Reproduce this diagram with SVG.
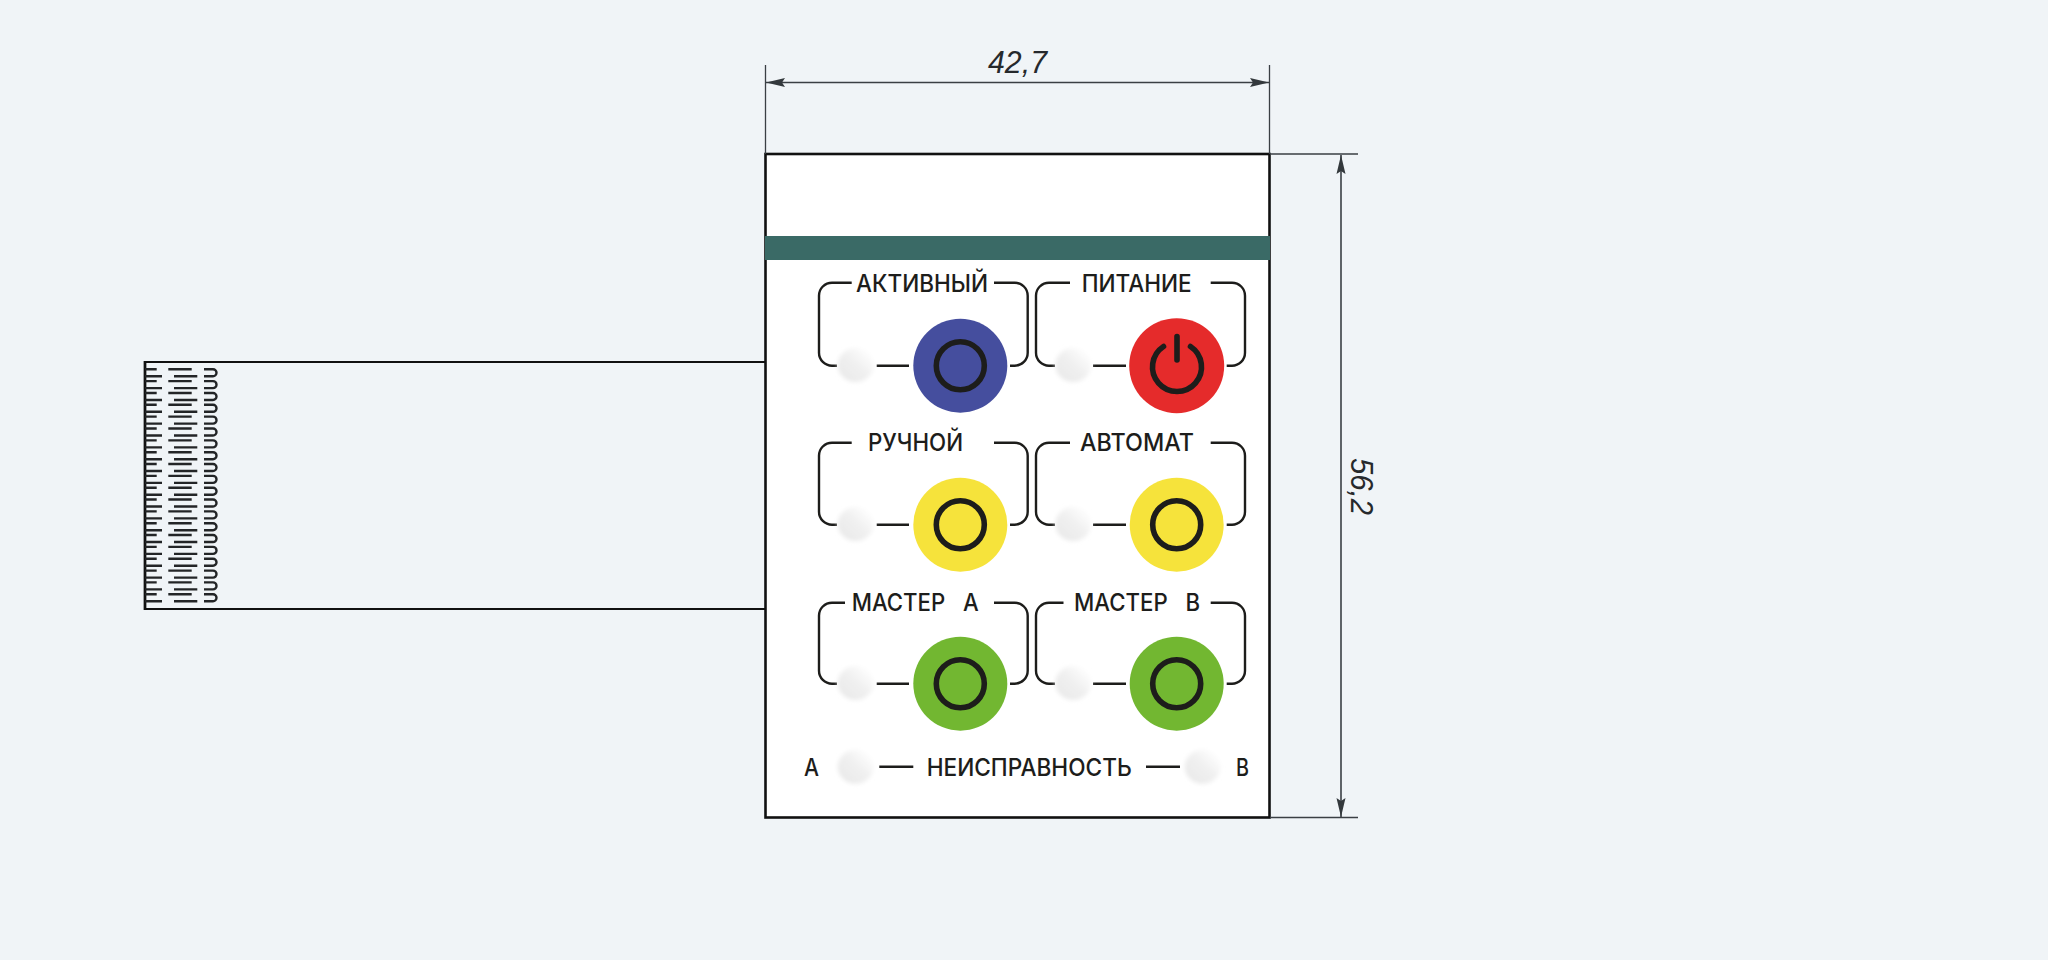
<svg xmlns="http://www.w3.org/2000/svg" xmlns:xlink="http://www.w3.org/1999/xlink" width="2048" height="960" viewBox="0 0 2048 960">
<style>
.dim{stroke:#3a3f44;stroke-width:1.3;fill:none}
.arr{stroke:#3a3f44;stroke-width:1.6;fill:none}
.dt{font:italic 31px "Liberation Sans",Arial,sans-serif;fill:#26292c}
.lb{font:500 24px Inter,"Noto Sans",sans-serif;fill:#1d1d1b}
.br{stroke:#1d1d1b;stroke-width:2.4;fill:none;stroke-linecap:butt}
.ring{stroke:#1d1d1b;stroke-width:5.6;fill:none}
.pad{stroke:#232527;stroke-width:2.4;fill:none}
</style>
<defs>
<marker id="ah" markerUnits="userSpaceOnUse" markerWidth="22" markerHeight="12" refX="21" refY="6" orient="auto-start-reverse" viewBox="0 0 22 12"><path d="M21 6 L2 1.5 L5 6 L2 10.5 Z" fill="#33383c"/></marker>
<linearGradient id="led" x1="0.1" y1="0.9" x2="0.9" y2="0.1"><stop offset="0.05" stop-color="#e9e9e9"/><stop offset="0.55" stop-color="#f1f1f1"/><stop offset="1" stop-color="#ffffff"/></linearGradient>
<filter id="soft" x="-25%" y="-25%" width="150%" height="150%"><feGaussianBlur stdDeviation="2.2"/></filter>
<g id="cell">
<path class="pad" d="M145 369.3H156.7M145 376.3H162M168.3 369.3H191.7M174 376.3H197.3M204 369.3H213a3.5 3.5 0 0 1 0 7H204"/>
</g>
<ellipse id="ledc" rx="18" ry="17" fill="url(#led)" filter="url(#soft)"/>
</defs>
<rect width="2048" height="960" fill="#f0f4f7"/>
<g id="flex-tail">
<path d="M765 362H145V609H765" fill="none" stroke="#111" stroke-width="2.2"/>
<path d="M145 361V610" stroke="#111" stroke-width="2.6"/>
<g id="flex-pads">
<use xlink:href="#cell" href="#cell" y="0"/><use href="#cell" y="11.84"/><use href="#cell" y="23.68"/><use href="#cell" y="35.52"/><use href="#cell" y="47.36"/><use href="#cell" y="59.2"/><use href="#cell" y="71.04"/><use href="#cell" y="82.88"/><use href="#cell" y="94.72"/><use href="#cell" y="106.56"/><use href="#cell" y="118.4"/><use href="#cell" y="130.24"/><use href="#cell" y="142.08"/><use href="#cell" y="153.92"/><use href="#cell" y="165.76"/><use href="#cell" y="177.6"/><use href="#cell" y="189.44"/><use href="#cell" y="201.28"/><use href="#cell" y="213.12"/><use href="#cell" y="224.96"/>
</g>
</g>
<g id="panel">
<rect x="765.5" y="154" width="504" height="663.5" fill="#fff" stroke="#111" stroke-width="2.6"/>
<rect x="765" y="236" width="505" height="24" fill="#3a6a66"/>
</g>
<g id="dimensions">
<path class="dim" d="M765.5 65V154M1269.5 65V154M1270 154H1358M1270 817.5H1358"/>
<path class="arr" d="M766 82.5H1269" marker-start="url(#ah)" marker-end="url(#ah)"/>
<path class="arr" d="M1341 155V817" marker-start="url(#ah)" marker-end="url(#ah)"/>
<text class="dt" x="988" y="73" textLength="59" lengthAdjust="spacingAndGlyphs">42,7</text>
<text class="dt" transform="translate(1351 458) rotate(90)" textLength="57" lengthAdjust="spacingAndGlyphs">56,2</text>
</g>
<g id="btn-aktivny">
<path class="br" d="M851.7 282.7H832a13 13 0 0 0-13 13V352.7a13 13 0 0 0 13 13H837M876.7 365.7H909M1010 365.7H1014.7a13 13 0 0 0 13-13V295.7a13 13 0 0 0-13-13H994"/>
<use href="#ledc" x="855.7" y="365"/>
<circle cx="960.3" cy="365.7" r="47" fill="#454e9e"/><circle class="ring" cx="960.3" cy="365.7" r="24"/>
<text class="lb" x="856" y="291.5" textLength="132" lengthAdjust="spacingAndGlyphs">АКТИВНЫЙ</text>
</g>
<g id="btn-pitanie">
<path class="br" d="M1070 282.7H1049a13 13 0 0 0-13 13V352.7a13 13 0 0 0 13 13H1055M1093 365.7H1126M1226.7 365.7H1232a13 13 0 0 0 13-13V295.7a13 13 0 0 0-13-13H1210.7"/>
<use href="#ledc" x="1073.3" y="365"/>
<circle cx="1176.7" cy="365.7" r="47.5" fill="#e52b2b"/>
<path class="ring" stroke-linecap="round" d="M1163.5 346.5A24.5 24.5 0 1 0 1190.5 346.5M1177 336.5V360"/>
<text class="lb" x="1081.7" y="291.5" textLength="110" lengthAdjust="spacingAndGlyphs">ПИТАНИЕ</text>
</g>
<g id="btn-ruchnoy">
<path class="br" d="M851.7 442.7H832a13 13 0 0 0-13 13V511.7a13 13 0 0 0 13 13H837M876.7 524.7H909M1010 524.7H1014.7a13 13 0 0 0 13-13V455.7a13 13 0 0 0-13-13H994"/>
<use href="#ledc" x="855.7" y="524"/>
<circle cx="960.3" cy="524.7" r="47" fill="#f6e33b"/><circle class="ring" cx="960.3" cy="524.7" r="24"/>
<text class="lb" x="868" y="451" textLength="95" lengthAdjust="spacingAndGlyphs">РУЧНОЙ</text>
</g>
<g id="btn-avtomat">
<path class="br" d="M1070 442.7H1049a13 13 0 0 0-13 13V511.7a13 13 0 0 0 13 13H1055M1093 524.7H1126M1226.7 524.7H1232a13 13 0 0 0 13-13V455.7a13 13 0 0 0-13-13H1210.7"/>
<use href="#ledc" x="1073.3" y="524"/>
<circle cx="1176.7" cy="524.7" r="47" fill="#f6e33b"/><circle class="ring" cx="1176.7" cy="524.7" r="24"/>
<text class="lb" x="1080" y="451" textLength="114" lengthAdjust="spacingAndGlyphs">АВТОМАТ</text>
</g>
<g id="btn-master-a">
<path class="br" d="M845 602.7H832a13 13 0 0 0-13 13V670.7a13 13 0 0 0 13 13H837M876.7 683.7H909M1010 683.7H1014.7a13 13 0 0 0 13-13V615.7a13 13 0 0 0-13-13H994"/>
<use href="#ledc" x="855.7" y="683"/>
<circle cx="960.3" cy="683.7" r="47" fill="#72b731"/><circle class="ring" cx="960.3" cy="683.7" r="24"/>
<text class="lb" x="851.7" y="610.7" textLength="127" lengthAdjust="spacingAndGlyphs" xml:space="preserve">МАСТЕР   А</text>
</g>
<g id="btn-master-b">
<path class="br" d="M1063.5 602.7H1049a13 13 0 0 0-13 13V670.7a13 13 0 0 0 13 13H1055M1093 683.7H1126M1226.7 683.7H1232a13 13 0 0 0 13-13V615.7a13 13 0 0 0-13-13H1210.7"/>
<use href="#ledc" x="1073.3" y="683"/>
<circle cx="1176.7" cy="683.7" r="47" fill="#72b731"/><circle class="ring" cx="1176.7" cy="683.7" r="24"/>
<text class="lb" x="1074" y="610.7" textLength="126" lengthAdjust="spacingAndGlyphs" xml:space="preserve">МАСТЕР   В</text>
</g>
<g id="fault">
<use href="#ledc" x="855.7" y="766.7"/><use href="#ledc" x="1202.7" y="766.7"/>
<path class="br" d="M879.3 766.7H913.3M1146 766.7H1180"/>
<text class="lb" x="804" y="776" textLength="15" lengthAdjust="spacingAndGlyphs">А</text>
<text class="lb" x="926.7" y="776" textLength="205" lengthAdjust="spacingAndGlyphs">НЕИСПРАВНОСТЬ</text>
<text class="lb" x="1236" y="776" textLength="13" lengthAdjust="spacingAndGlyphs">В</text>
</g>
</svg>
